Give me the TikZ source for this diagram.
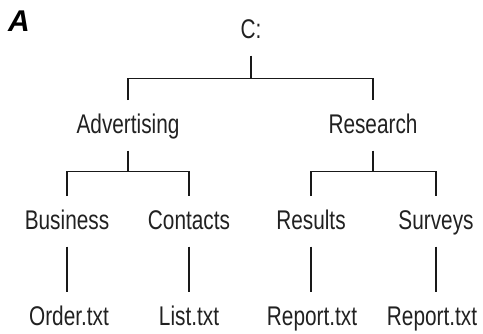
\documentclass[tikz,border=0pt]{standalone}
\usepackage{fontspec}
\setmainfont{Liberation Sans}[FakeStretch=0.77]
\newfontfamily\labelfont{Liberation Sans}
\begin{document}
\begin{tikzpicture}[x=1pt,y=-1pt,
  dir/.style={anchor=base, inner sep=0pt, outer xsep=0pt, outer ysep=14pt,
    text height=19pt, text depth=3.5pt, text=black!87,
    font=\fontsize{27}{32}\selectfont},
  link/.style={line width=1.4pt, draw=black!90}]
\useasboundingbox (0,0) rectangle (483,333);
\node[anchor=center, inner sep=0pt, font=\labelfont\bfseries\itshape\fontsize{30}{34}\selectfont] (lbl) at (19,21) {A};
% nodes (base positions)
\node[dir] (c)   at (251,38)  {C:};
\node[dir] (adv) at (128,133) {Advertising};
\node[dir] (res) at (373,133) {Research};
\node[dir] (bus) at (67,229)  {Business};
\node[dir] (con) at (189,229) {Contacts};
\node[dir] (rsl) at (311,229) {Results};
\node[dir] (sur) at (436,229) {Surveys};
\node[dir] (ord) at (69,325)  {Order.txt};
\node[dir] (lst) at (189,325) {List.txt};
\node[dir] (rp1) at (312,325) {Report.txt};
\node[dir] (rp2) at (432,325) {Report.txt};
% connectors
\draw[link] (c.south) -- ++(0,23) coordinate (cj);
\draw[link] (adv.north) |- (cj) -| (res.north);
\draw[link] (adv.south) -- ++(0,21) coordinate (aj);
\draw[link] (bus.north) |- (aj) -| (con.north);
\draw[link] (res.south) -- ++(0,21) coordinate (rj);
\draw[link] (rsl.north) |- (rj) -| (sur.north);
\draw[link] (bus.south) -- (bus.south |- ord.north);
\draw[link] (con.south) -- (con.south |- lst.north);
\draw[link] (rsl.south) -- (rsl.south |- rp1.north);
\draw[link] (sur.south) -- (sur.south |- rp2.north);
\end{tikzpicture}
\end{document}
